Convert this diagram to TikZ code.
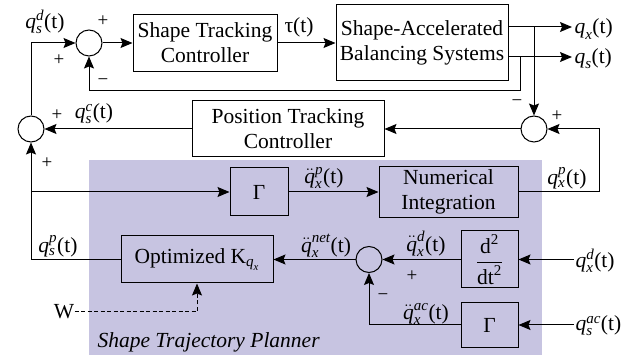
\documentclass[tikz,border=0pt]{standalone}
\usepackage{amsmath}
\usepackage{fontspec}
\setmainfont{Liberation Serif}
\usetikzlibrary{arrows.meta}
\definecolor{plannerbg}{RGB}{199,196,225}
\newcommand\qv[3]{\textit{#1}$_{\textit{#2}}^{\textit{#3}}$(t)}
\newcommand\qdd[3]{$\ddot{\textit{#1}}_{\textit{#2}}^{\textit{#3}}$(t)}
\begin{document}
\begin{tikzpicture}[x=1pt,y=-1pt,
  font=\fontsize{21.5}{25}\selectfont,
  line width=1pt,
  >={Stealth[length=12pt,width=10pt,inset=2pt]},
  blk/.style={draw, inner sep=0pt, align=center},
  sumc/.style={draw, circle, minimum size=26pt, inner sep=0pt},
  lbl/.style={inner sep=0pt},
  sgn/.style={inner sep=0pt, font=\fontsize{19}{21}\selectfont},
  dsh/.style={dash pattern=on 4pt off 2.5pt}
]
\useasboundingbox (0,0) rectangle (627,355);
\fill[plannerbg] (89,160) rectangle (542,355);

% blocks
\node[sumc] (s1) at (89,43) {};
\node[blk, minimum width=144pt, minimum height=57pt] (stc) at (205,43) {Shape Tracking\\Controller};
\node[blk, minimum width=172pt, minimum height=76pt] (sabs) at (422,43) {Shape-Accelerated\\Balancing Systems};
\node[blk, minimum width=192pt, minimum height=56pt] (ptc) at (288,129) {Position Tracking\\Controller};
\node[sumc] (s2) at (31,129) {};
\node[sumc] (s3) at (534,129) {};
\node[blk, minimum width=58pt, minimum height=48pt] (g1) at (259,192) {Γ};
\node[blk, minimum width=139pt, minimum height=51pt] (ni) at (448.5,192) {Numerical\\Integration};
\node[blk, minimum width=152pt, minimum height=47pt] (K) at (197,259.5) {Optimized K$_{\textit{q}_{\textit{x}}}$};
\node[sumc] (s4) at (369,259.5) {};
\node[blk, minimum width=57pt, minimum height=57pt] (dd) at (489.5,259.5) {$\displaystyle\frac{\textrm{d}^{\textrm{2}}}{\textrm{dt}^{\textrm{2}}}$};
\node[blk, minimum width=57pt, minimum height=45pt] (g2) at (489.5,325) {Γ};

% coordinates
\coordinate (qxo) at (572,27);
\coordinate (qso) at (572,57);
\coordinate (bx) at (534,27);
\coordinate (bs) at (520,57);
\coordinate (rc) at (599,192);
\coordinate (lc) at (31,259.5);
\coordinate (lb) at (31,192);
\coordinate (ix1) at (574,259.5);
\coordinate (ix2) at (574,325);

% connectors
\draw[->] (s1) -- (stc);
\draw[->] (stc) -- (sabs);
\draw[->] (sabs.east |- qxo) -- (qxo);
\draw[->] (sabs.east |- qso) -- (qso);
\draw[->] (bx) -- (s3);
\draw[->] (bs) -- ++(0,34) -| (s1);
\draw[->] (s3) -- (ptc);
\draw[->] (ptc) -- (s2);
\draw[->] (s2) |- (s1);
\draw[->] (ni) -- (rc) |- (s3);
\draw[->] (g1) -- (ni);
\draw[->] (K) -- (lc) -- (s2);
\draw[->] (lb) -- (g1);
\draw[->] (s4) -- (K);
\draw[->] (dd) -- (s4);
\draw[->] (g2) -| (s4);
\draw[->] (ix1) -- (dd);
\draw[->] (ix2) -- (g2);
\node[lbl] (W) at (64,312) {W};
\draw[->, dsh] (W) -| (K);

% labels
\node[lbl] (l1) at (45,22) {\qv{q}{s}{d}};
\node[lbl] (l2) at (299,27) {τ(t)};
\node[lbl, anchor=west] (l3) at (574,29) {\qv{q}{x}{}};
\node[lbl, anchor=west] (l4) at (574,59) {\qv{q}{s}{}};
\node[lbl] (l5) at (94,114) {\qv{q}{s}{c}};
\node[lbl] (l6) at (58,246) {\qv{q}{s}{p}};
\node[lbl] (l7) at (324,178) {\qdd{q}{x}{p}};
\node[lbl] (l8) at (567,178) {\qv{q}{x}{p}};
\node[lbl] (l9) at (326,246) {\qdd{q}{x}{net}};
\node[lbl] (l10) at (426,244) {\qdd{q}{x}{d}};
\node[lbl] (l11) at (426,314) {\qdd{q}{x}{ac}};
\node[lbl, anchor=west] (l12) at (575,261) {\qv{q}{x}{d}};
\node[lbl, anchor=west] (l13) at (575,326) {\qv{q}{s}{ac}};
\node[lbl, anchor=west, font=\fontsize{21.5}{25}\selectfont\itshape] (l14) at (97,342) {Shape Trajectory Planner};

% signs
\node[sgn] at (103,21) {+};
\node[sgn] at (59,60) {+};
\node[sgn] at (103,82) {−};
\node[sgn] at (57,115) {+};
\node[sgn] at (47,163) {+};
\node[sgn] at (517,103) {−};
\node[sgn] at (557,116) {+};
\node[sgn] at (412,276) {+};
\node[sgn] at (383,297) {−};
\end{tikzpicture}
\end{document}
